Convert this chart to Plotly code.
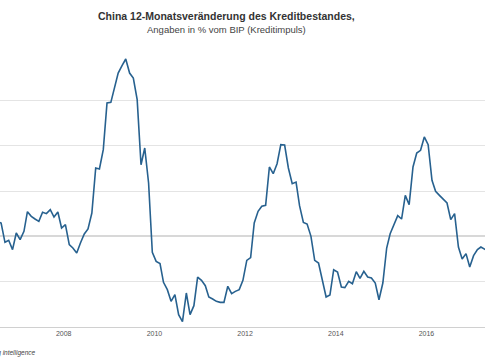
import pandas as pd
import plotly.graph_objects as go

# Monthly credit impulse values (% of GDP), July 2006 .. May 2017
values = [
    1.65, 1.47, -0.66, -0.44, -1.47, 0.37, -0.37, 0.55, 2.72, 2.21, 1.91, 1.65,
    2.65, 2.50, 2.94, 2.13, 2.68, 0.92, 1.29, -0.92, -1.29, -1.84, -0.74, 0.26,
    0.81, 2.57, 7.54, 7.43, 9.56, 14.71, 14.78, 16.54, 18.01, 18.82, 19.56, 18.01,
    17.46, 15.07, 7.90, 9.74, 5.88, -1.76, -2.76, -3.01, -5.07, -5.88, -7.17, -6.43,
    -8.64, -9.41, -6.25, -8.64, -7.65, -4.49, -4.85, -5.44, -6.69, -6.91, -7.17, -7.28,
    -7.28, -5.51, -6.32, -6.07, -5.88, -4.85, -2.65, -2.35, 1.47, 2.76, 3.31, 3.42,
    7.65, 6.91, 8.01, 10.11, 10.07, 7.54, 5.81, 5.99, 3.38, 1.54, 1.36, 0.0,
    -2.65, -2.94, -4.78, -6.69, -6.47, -3.68, -3.93, -5.59, -5.66, -4.96, -5.22, -3.90,
    -4.63, -3.86, -4.49, -4.60, -5.15, -6.99, -5.15, -1.29, 0.29, 1.29, 2.28, 1.91,
    4.52, 3.49, 7.65, 9.19, 9.49, 10.96, 10.11, 6.18, 4.96, 4.52, 4.15, 3.68,
    1.84, 2.50, -1.18, -2.50, -1.91, -3.38, -2.13, -1.47, -1.18, -1.47, -1.65,
]
dates = pd.date_range("2006-07-01", periods=len(values), freq="MS") + pd.Timedelta(days=14)

tick_years = ["2008-01-01", "2010-01-01", "2012-01-01", "2014-01-01", "2016-01-01"]
tick_labels = ["2008", "2010", "2012", "2014", "2016"]
y_grid = [-10, -5, 0, 5, 10, 15, 20]

title = "China 12-Monatsveränderung des Kreditbestandes,"
subtitle = "Angaben in % vom BIP (Kreditimpuls)"
source = "Quelle: Bloomberg intelligence"

fig = go.Figure()
fig.add_trace(go.Scatter(
    x=dates, y=values, mode="lines",
    line=dict(color="#27618f", width=1.6),
    hoverinfo="skip", showlegend=False,
))

fig.update_layout(
    width=485, height=360,
    margin=dict(l=0, r=0, t=55, b=33),
    paper_bgcolor="white", plot_bgcolor="white",
    font=dict(family="Liberation Sans, Arial, sans-serif", color="#555"),
    xaxis=dict(
        range=["2006-08-06", "2017-04-17"],
        tickvals=tick_years, ticktext=tick_labels,
        tickfont=dict(size=7, color="#555"),
        showgrid=False, zeroline=False,
        showline=True, linecolor="#d0d0d0", linewidth=1,
        ticks="", ticklen=0,
    ),
    yaxis=dict(
        range=[-10, 20],
        tickvals=y_grid,
        showticklabels=False,
        showgrid=True, gridcolor="#e4e4e4", gridwidth=1,
        zeroline=True, zerolinecolor="#d8d8d8", zerolinewidth=2,
        showline=False, ticks="",
    ),
    annotations=[
        dict(text="<b>" + title + "</b>", xref="paper", yref="paper",
             x=0.466, y=1, yshift=39, xanchor="center", yanchor="middle",
             showarrow=False, font=dict(size=10.5, color="#333")),
        dict(text=subtitle, xref="paper", yref="paper",
             x=0.468, y=1, yshift=26, xanchor="center", yanchor="middle",
             showarrow=False, font=dict(size=9.5, color="#444")),
        dict(text="<i>" + source + "</i>", xref="paper", yref="paper",
             x=0, y=0, xshift=38, yshift=-26, xanchor="right", yanchor="middle",
             showarrow=False, font=dict(size=6.5, color="#444")),
    ],
)

fig.write_html(
    "out.html",
    config={"displayModeBar": False, "staticPlot": True},
    post_script="document.body.style.margin='0';document.body.style.overflow='hidden';",
)
